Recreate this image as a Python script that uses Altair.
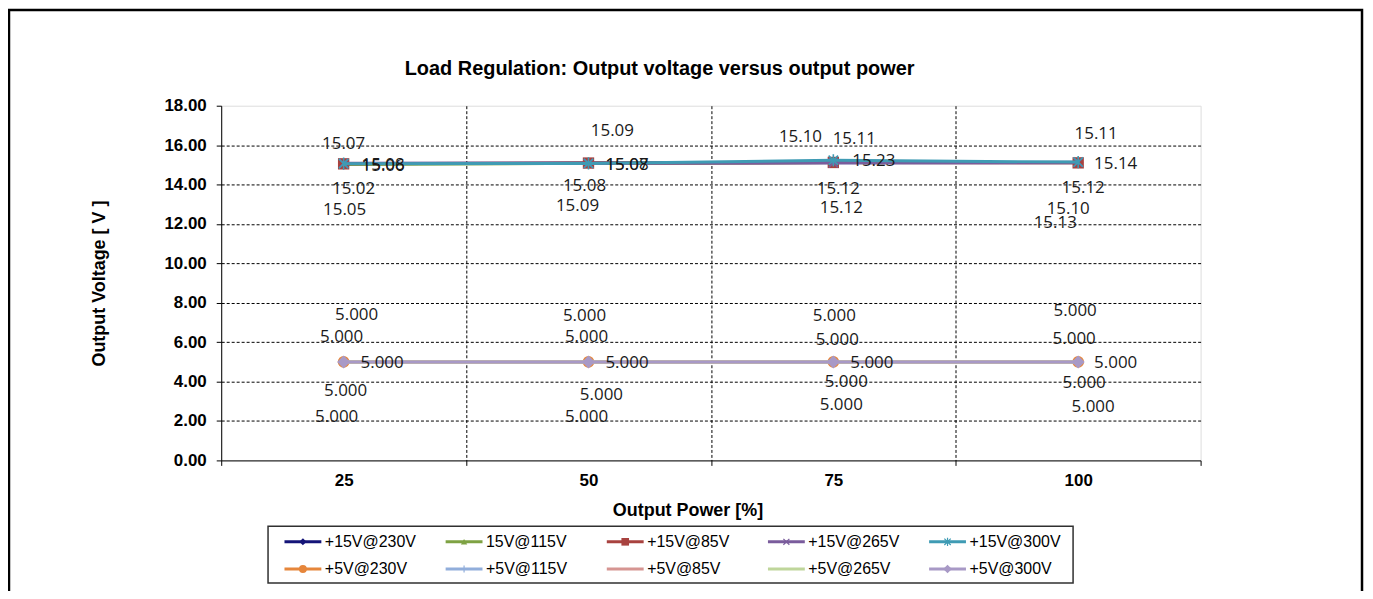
import altair as alt
import pandas as pd

# ---------------- data ----------------
categories = ["25", "50", "75", "100"]

series = ["+15V@230V", "15V@115V", "+15V@85V", "+15V@265V", "+15V@300V",
          "+5V@230V", "+5V@115V", "+5V@85V", "+5V@265V", "+5V@300V"]

v15_230 = [15.07, 15.09, 15.11, 15.11]
v15_115 = [15.02, 15.08, 15.12, 15.12]
v15_85 = [15.05, 15.09, 15.12, 15.10]
v15_265 = [15.08, 15.08, 15.10, 15.13]
v15_300 = [15.06, 15.07, 15.23, 15.14]
v5_230 = [5.000, 5.000, 5.000, 5.000]
v5_115 = [5.000, 5.000, 5.000, 5.000]
v5_85 = [5.000, 5.000, 5.000, 5.000]
v5_265 = [5.000, 5.000, 5.000, 5.000]
v5_300 = [5.000, 5.000, 5.000, 5.000]

values = [v15_230, v15_115, v15_85, v15_265, v15_300,
          v5_230, v5_115, v5_85, v5_265, v5_300]
label_decimals = [2, 2, 2, 2, 2, 3, 3, 3, 3, 3]

y_ticks = [0, 2, 4, 6, 8, 10, 12, 14, 16, 18]

chart_title = "Load Regulation: Output voltage versus output power"

# ---------------- styles ----------------
PLOT_W, PLOT_H = 983, 356
X_DOMAIN = [0, 4]
Y_DOMAIN = [0, 18]
PX_X = PLOT_W / (X_DOMAIN[1] - X_DOMAIN[0])
PX_Y = PLOT_H / (Y_DOMAIN[1] - Y_DOMAIN[0])

colors = ["#141478", "#7ea243", "#a8423f", "#7a5c9c", "#3f9bb4",
          "#e6863b", "#91aedb", "#d69592", "#bfd69b", "#a899c6"]

X_PATH = "M-1,-1L1,1M-1,1L1,-1"
STAR_PATH = "M-1,-1L1,1M-1,1L1,-1M0,-1.3L0,1.3"
PLUS_PATH = "M-1,0L1,0M0,-1.2L0,1.2"

# (shape, size, filled)
markers = [("diamond", 110, True), ("triangle-up", 90, True), ("square", 130, True),
           (X_PATH, 80, False), (STAR_PATH, 90, False), ("circle", 140, True),
           (PLUS_PATH, 80, False), None, None, ("diamond", 170, True)]

# data-label placement (pixel offsets from each point, like dragged Excel labels)
label_offsets = {
    0: [(0, -20, "center"), (24, -32, "center"), (21, -24, "center"), (18, -29, "center")],
    1: [(10, 25, "center"), (-4, 23, "center"), (5, 27, "center"), (5, 26, "center")],
    2: [(1, 46, "center"), (-11, 43, "center"), (8, 46, "center"), (-10, 46, "center")],
    3: [(18, 2, "left"), (17, 2, "left"), (-33, -26, "center"), (-23, 61, "center")],
    4: [(18, 2, "left"), (17, 2, "left"), (19, 1, "left"), (16, 2, "left")],
    5: [(13, -47, "center"), (-4, -46, "center"), (1, -46, "center"), (-3, -51, "center")],
    6: [(-2, -25, "center"), (-2, -25, "center"), (4, -22, "center"), (-4, -23, "center")],
    7: [(2, 29, "center"), (13, 33, "center"), (13, 20, "center"), (6, 21, "center")],
    8: [(-7, 55, "center"), (-2, 55, "center"), (8, 43, "center"), (15, 45, "center")],
    9: [(17, 1, "left"), (17, 1, "left"), (17, 1, "left"), (16, 1, "left")],
}

pt_rows, lab_rows = [], []
for k, name in enumerate(series):
    for i, cat in enumerate(categories):
        v = values[k][i]
        xi = i + 0.5
        pt_rows.append({"series": name, "cat": cat, "xi": xi, "v": v})
        dx, dy, al = label_offsets[k][i]
        lab_rows.append({"series": name, "lx": xi + dx / PX_X, "ly": v - dy / PX_Y,
                         "txt": f"{v:.{label_decimals[k]}f}", "align": al})
pts = pd.DataFrame(pt_rows)
labs = pd.DataFrame(lab_rows)

FONT = "Liberation Sans"

label_list = "[" + ",".join(f"'{c}'" for c in categories) + "]"
x_axis = alt.Axis(
    values=[0, 0.5, 1, 1.5, 2, 2.5, 3, 3.5, 4],
    labelExpr=f"(datum.value % 1) == 0.5 ? {label_list}[floor(datum.value)] : ''",
    tickOpacity={"condition": {"test": "datum.value % 1 != 0", "value": 0}, "value": 1},
    gridOpacity={"condition": {"test": "datum.value % 1 != 0 || datum.value == 0 || datum.value == 4",
                               "value": 0}, "value": 1},
    grid=True, gridColor="black", gridDash=[3, 2], gridWidth=1,
    domainColor="black", tickColor="black", tickSize=5,
    labelFont=FONT, labelFontWeight="bold", labelFontSize=17, labelColor="black",
    labelPadding=7, labelOverlap=False, labelFlush=False, labelBound=False,
    title="Output Power [%]", titleFont=FONT, titleFontWeight="bold", titleFontSize=18,
    titleColor="black", titleX=468, titleY=50, titleBaseline="middle", titleAlign="center",
)
y_axis = alt.Axis(
    values=y_ticks, format=".2f",
    gridOpacity={"condition": {"test": "datum.value == 0 || datum.value == 18", "value": 0},
                 "value": 1},
    grid=True, gridColor="black", gridDash=[3, 2], gridWidth=1,
    domainColor="black", tickColor="black", tickSize=5,
    labelFont=FONT, labelFontWeight="bold", labelFontSize=17, labelColor="black",
    labelPadding=10,
    title="Output Voltage [ V ]", titleFont=FONT, titleFontWeight="bold", titleFontSize=18,
    titleColor="black", titleX=-122, titleY=178, titleAngle=-90, titleBaseline="middle",
    titleAlign="center",
)


def X(field):
    return alt.X(f"{field}:Q", scale=alt.Scale(domain=X_DOMAIN, nice=False, zero=False), axis=x_axis)


def Y(field):
    return alt.Y(f"{field}:Q", scale=alt.Scale(domain=Y_DOMAIN, nice=False), axis=y_axis)


one = pd.DataFrame({"k": [0]})
title_df = pd.DataFrame({"t": [chart_title]})
main_layers = [
    # outer chart frame
    alt.Chart(one).mark_rect(fill="transparent", stroke="black", strokeWidth=2.5).encode(
        x=alt.value(-213), x2=alt.value(1145), y=alt.value(-96), y2=alt.value(520)),
    # chart title
    alt.Chart(title_df).mark_text(font=FONT, fontSize=20, fontWeight="bold", color="black",
                                  align="center", baseline="middle").encode(
        x=alt.value(440), y=alt.value(-37), text="t:N"),
]
for k, name in enumerate(series):
    base = alt.Chart(pts[pts.series == name])
    main_layers.append(base.mark_line(color=colors[k], strokeWidth=3).encode(x=X("xi"), y=Y("v")))
    if markers[k] is not None:
        shape, size, filled = markers[k]
        main_layers.append(base.mark_point(shape=shape, size=size, filled=filled, color=colors[k],
                                           opacity=1, strokeWidth=1.6).encode(x=X("xi"), y=Y("v")))

for al in ["center", "left"]:
    main_layers.append(
        alt.Chart(labs[labs["align"] == al]).mark_text(
            align=al, baseline="middle", font="Open Sans", fontSize=17, color="#1a1a1a"
        ).encode(x=X("lx"), y=Y("ly"), text="txt:N"))

# ---------------- legend ----------------
leg_rows = []
for k, name in enumerate(series):
    m = markers[k]
    leg_rows.append({"series": name, "col": k % 5, "row": k // 5, "color": colors[k],
                     "shape": m[0] if m else "", "msize": (m[1] * 0.45 if m else 0),
                     "filled": bool(m[2]) if m else False, "has": m is not None})
leg = pd.DataFrame(leg_rows)
LX = alt.X("col:Q", scale=alt.Scale(domain=[0, 4], range=[82, 729]), axis=None)
LY = alt.Y("row:Q", scale=alt.Scale(domain=[0, 1], range=[437.7, 465]), axis=None)

legend_layers = [
    alt.Chart(one).mark_rect(fill="white", stroke="#303030", strokeWidth=1.5).encode(
        x=alt.value(47), x2=alt.value(855), y=alt.value(422), y2=alt.value(479)),
    alt.Chart(leg).mark_point(shape="stroke", size=37 ** 2, strokeWidth=3, filled=False, opacity=1).encode(
        x=LX, y=LY, color=alt.Color("color:N", scale=None)),
    alt.Chart(leg[leg["has"] & leg["filled"]]).mark_point(filled=True, opacity=1).encode(
        x=LX, y=LY, color=alt.Color("color:N", scale=None),
        shape=alt.Shape("shape:N", scale=None), size=alt.Size("msize:Q", scale=None)),
    alt.Chart(leg[leg["has"] & ~leg["filled"]]).mark_point(filled=False, opacity=1, strokeWidth=1.2).encode(
        x=LX, y=LY, color=alt.Color("color:N", scale=None),
        shape=alt.Shape("shape:N", scale=None), size=alt.Size("msize:Q", scale=None)),
    alt.Chart(leg).mark_text(align="left", baseline="middle", dx=22, font=FONT, fontSize=16,
                             color="black").encode(x=LX, y=LY, text="series:N"),
]

chart = alt.layer(
    alt.layer(*main_layers),
    alt.layer(*legend_layers),
).resolve_scale(x="independent", y="independent").properties(
    width=PLOT_W, height=PLOT_H,
    padding={"left": 214, "top": 97, "right": 165, "bottom": 130},
    autosize=alt.AutoSizeParams(type="none"),
).configure_view(stroke="#8c8c8c", strokeWidth=1).configure(background="white")

chart.save("out.html", embed_options={"renderer": "svg", "actions": False})
